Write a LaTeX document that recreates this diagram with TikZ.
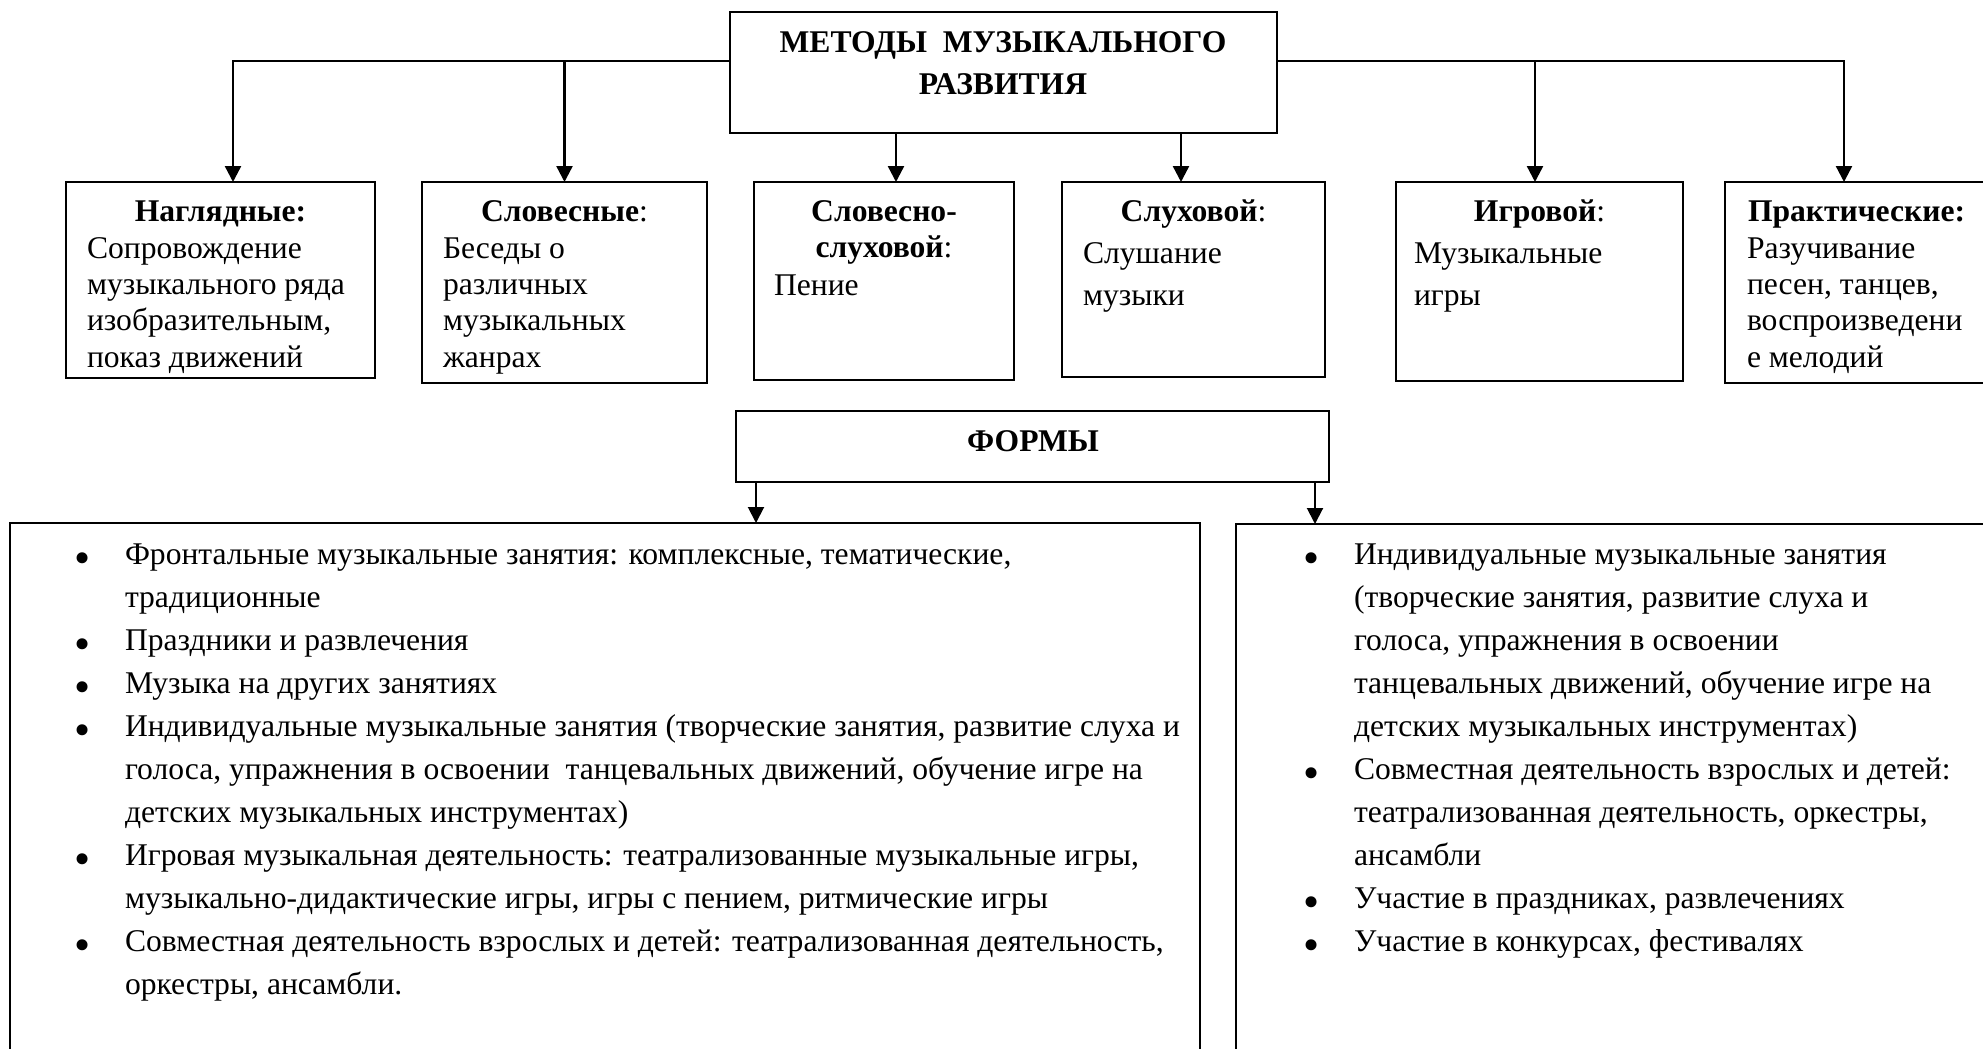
\documentclass[tikz,border=0pt]{standalone}
\usepackage{fontspec}
\setmainfont{Liberation Serif}
\usetikzlibrary{arrows.meta}
\newcommand{\bigbul}{\raisebox{-4.5pt}{\fontsize{23pt}{23pt}\selectfont\textbullet}}
\newcommand{\bl}[1]{\makebox[24pt][l]{\hspace*{-1.2pt}\bigbul}#1}
\newcommand{\ct}[1]{\hspace*{24pt}#1}
\begin{document}
\begin{tikzpicture}[x=0.5pt,y=-0.5pt,
  box/.style={draw, line width=1pt, anchor=north west, inner sep=0pt, outer sep=0pt},
  bbox/.style={draw, line width=0.8pt, anchor=north west, inner sep=0pt, outer sep=0pt},
  txt/.style={inner sep=0pt, outer sep=0pt, anchor=base west},
  hdr/.style={inner sep=0pt, outer sep=0pt, anchor=base},
  conn/.style={line width=1.2pt, -{Triangle[width=8pt,length=8pt]}},
  conn2/.style={line width=1pt, -{Triangle[width=8pt,length=8pt]}},
  every node/.style={font=\fontsize{15.8pt}{18.2pt}\selectfont}
]
\path[use as bounding box] (0,0) rectangle (1983,1049);
\clip (0,0) rectangle (1983,1049);

% top box
\node[box, minimum width=273.5pt, minimum height=60.5pt] (top) at (730,12) {};
\node[hdr] (ttl) at (1003,52) {\parbox[t]{260pt}{\centering\bfseries\fontsize{15.8pt}{21pt}\selectfont МЕТОДЫ\ \ МУЗЫКАЛЬНОГО\\РАЗВИТИЯ}};

% method boxes
\node[box, minimum width=154.5pt, minimum height=98pt] (b1) at (66,182) {};
\node[box, minimum width=142.5pt, minimum height=100.5pt] (b2) at (422,182) {};
\node[box, minimum width=130pt, minimum height=99pt] (b3) at (754,182) {};
\node[box, minimum width=131.5pt, minimum height=97.5pt] (b4) at (1062,182) {};
\node[box, minimum width=143.5pt, minimum height=99.5pt] (b5) at (1396,182) {};
\node[box, minimum width=150pt, minimum height=100.5pt] (b6) at (1725,182) {};

% headers
\node[hdr] (h1) at (b1.north |- 0,221) {\textbf{Наглядные:}};
\node[hdr] (h2) at (b2.north |- 0,221) {\textbf{Словесные}:};
\node[hdr] (h3) at (b3.north |- 0,221) {\parbox[t]{120pt}{\centering\textbf{Словесно-}\\\textbf{слуховой}:}};
\node[hdr] (h4) at (b4.north |- 0,221) {\textbf{Слуховой}:};
\node[hdr] (h5) at (b5.north |- 0,221) {\textbf{Игровой}:};
\node[txt] (h6) at (1748,221) {\textbf{Практические:}};

% bodies
\node[txt] (t1) at (87,258) {\parbox[t]{150pt}{Сопровождение\\музыкального ряда\\изобразительным,\\показ движений}};
\node[txt] (t2) at (443,258) {\parbox[t]{150pt}{Беседы о\\различных\\музыкальных\\жанрах}};
\node[txt] (t3) at (774,295) {Пение};
\node[txt] (t4) at (1083,263) {\parbox[t]{120pt}{\fontsize{15.8pt}{21pt}\selectfont Слушание\\музыки}};
\node[txt] (t5) at (1414,263) {\parbox[t]{130pt}{\fontsize{15.8pt}{21pt}\selectfont Музыкальные\\игры}};
\node[txt] (t6) at (1747,258) {\parbox[t]{150pt}{Разучивание\\песен, танцев,\\воспроизведени\\е мелодий}};

% connectors from top box
\coordinate (jl) at ([yshift=-24.5pt]top.north west);
\coordinate (jr) at ([yshift=-24.5pt]top.north east);
\coordinate (a1) at ([xshift=83.5pt]b1.north west);
\coordinate (a3) at ([xshift=71pt]b3.north west);
\coordinate (a4) at ([xshift=59.5pt]b4.north west);
\coordinate (a5) at ([xshift=69.5pt]b5.north west);
\coordinate (a6) at ([xshift=59.5pt]b6.north west);
\draw[conn] (jl) -| (a1);
\draw[conn] (jl -| b2.north) -- (b2.north);
\draw[conn] (a3 |- top.south) -- (a3);
\draw[conn] (a4 |- top.south) -- (a4);
\draw[conn] (jr) -| (a6);
\draw[conn] (jr -| a5) -- (a5);

% forms
\node[bbox, minimum width=296.5pt, minimum height=35.5pt] (formy) at (736,411) {};
\node[hdr] (ftx) at (1033,451) {\textbf{ФОРМЫ}};

\node[bbox, minimum width=595pt, minimum height=300pt] (lbox) at (10,523) {};
\node[bbox, minimum width=400pt, minimum height=300pt] (rbox) at (1236,524) {};

\coordinate (f1) at ([xshift=10pt]formy.south west);
\coordinate (f2) at ([xshift=-7pt]formy.south east);
\draw[conn2] (f1) -- (f1 |- lbox.north);
\draw[conn2] (f2) -- (f2 |- rbox.north);

\node[txt] (ll) at (77,564) {\parbox[t]{560pt}{\fontsize{15.8pt}{21.5pt}\selectfont
\bl{Фронтальные музыкальные занятия: комплексные, тематические,}\\
\ct{традиционные}\\
\bl{Праздники и развлечения}\\
\bl{Музыка на других занятиях}\\
\bl{Индивидуальные музыкальные занятия (творческие занятия, развитие слуха и}\\
\ct{голоса, упражнения в освоении\ \ танцевальных движений, обучение игре на}\\
\ct{детских музыкальных инструментах)}\\
\bl{Игровая музыкальная деятельность: театрализованные музыкальные игры,}\\
\ct{музыкально-дидактические игры, игры с пением, ритмические игры}\\
\bl{Совместная деятельность взрослых и детей: театрализованная деятельность,}\\
\ct{оркестры, ансамбли.}}};

\node[txt] (rl) at (1306,564) {\parbox[t]{360pt}{\fontsize{15.8pt}{21.5pt}\selectfont
\bl{Индивидуальные музыкальные занятия}\\
\ct{(творческие занятия, развитие слуха и}\\
\ct{голоса, упражнения в освоении}\\
\ct{танцевальных движений, обучение игре на}\\
\ct{детских музыкальных инструментах)}\\
\bl{Совместная деятельность взрослых и детей:}\\
\ct{театрализованная деятельность, оркестры,}\\
\ct{ансамбли}\\
\bl{Участие в праздниках, развлечениях}\\
\bl{Участие в конкурсах, фестивалях}}};
\end{tikzpicture}
\end{document}
